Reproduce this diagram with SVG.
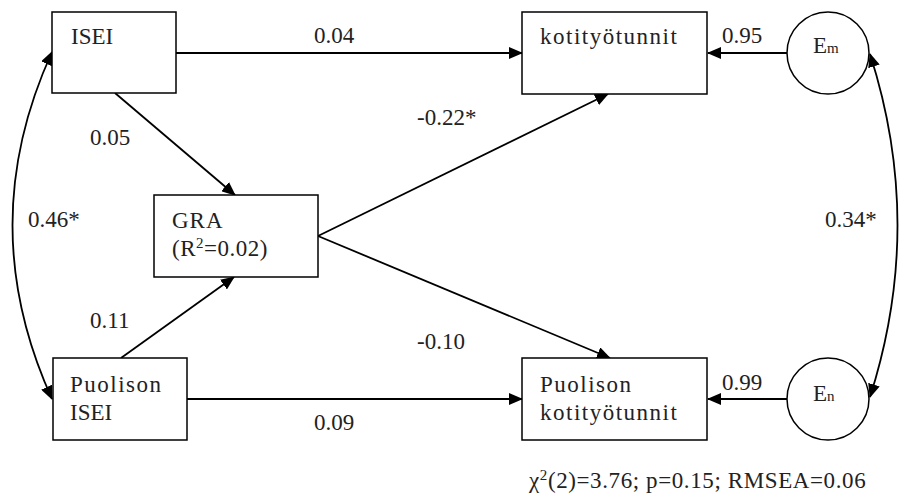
<svg xmlns="http://www.w3.org/2000/svg" width="904" height="499" viewBox="0 0 904 499">
<style>
.box{fill:#fff;stroke:#000;stroke-width:1.5}
.c{fill:#fff;stroke:#000;stroke-width:1.5}
.ln{fill:none;stroke:#000;stroke-width:1.8}
.t{font-family:'Liberation Serif',serif;font-size:23px;fill:#222}
.w{letter-spacing:1.5px}
.sm{font-size:15px}
</style>
<defs>
<marker id="ah" markerUnits="userSpaceOnUse" markerWidth="14" markerHeight="12" refX="13" refY="6" orient="auto-start-reverse" viewBox="0 0 14 12">
<path d="M0,0 L14,6 L0,12 z" fill="#000"/>
</marker>
</defs>
<g id="connectors">
<line class="ln" x1="176" y1="53" x2="522" y2="53" marker-end="url(#ah)"/>
<line class="ln" x1="787" y1="53" x2="708" y2="53" marker-end="url(#ah)"/>
<line class="ln" x1="787" y1="399" x2="708" y2="399" marker-end="url(#ah)"/>
<line class="ln" x1="187" y1="399" x2="522" y2="399" marker-end="url(#ah)"/>
<line class="ln" x1="115" y1="93" x2="235" y2="195" marker-end="url(#ah)"/>
<line class="ln" x1="121" y1="358" x2="234" y2="277" marker-end="url(#ah)"/>
<line class="ln" x1="318" y1="236" x2="608" y2="94" marker-end="url(#ah)"/>
<line class="ln" x1="318" y1="236" x2="610" y2="358" marker-end="url(#ah)"/>
<path class="ln" d="M52,52 Q-27,225 52,399" marker-start="url(#ah)" marker-end="url(#ah)"/>
<path class="ln" d="M870,54 Q925,225 870,397" marker-start="url(#ah)" marker-end="url(#ah)"/>
</g>
<g id="labels" class="t">
<text x="314" y="43">0.04</text>
<text x="722" y="43">0.95</text>
<text x="417" y="125">-0.22*</text>
<text x="90" y="145">0.05</text>
<text x="28" y="227">0.46*</text>
<text x="825" y="227">0.34*</text>
<text x="90" y="328">0.11</text>
<text x="417" y="349">-0.10</text>
<text x="722" y="390">0.99</text>
<text x="314" y="430">0.09</text>
<text x="529" y="488" letter-spacing="0.6">χ<tspan class="sm" dy="-8">2</tspan><tspan dy="8">(2)=3.76; p=0.15; RMSEA=0.06</tspan></text>
</g>
<g id="ISEI" class="t">
<rect class="box" x="52" y="12" width="124" height="81"/>
<text x="71" y="44">ISEI</text>
</g>
<g id="kotityotunnit" class="t">
<rect class="box" x="522" y="12" width="185" height="82"/>
<text class="w" x="540" y="44">kotityötunnit</text>
</g>
<g id="Em" class="t">
<circle class="c" cx="828" cy="53" r="41"/>
<text x="813" y="53">E<tspan class="sm">m</tspan></text>
</g>
<g id="GRA" class="t">
<rect class="box" x="154" y="195" width="164" height="82"/>
<text x="172" y="228" letter-spacing="1">GRA</text>
<text x="172" y="256" letter-spacing="0.5">(R<tspan class="sm" dy="-8">2</tspan><tspan dy="8">=0.02)</tspan></text>
</g>
<g id="PuolisonISEI" class="t">
<rect class="box" x="53" y="358" width="134" height="82"/>
<text class="w" x="70" y="392">Puolison</text>
<text x="70" y="420">ISEI</text>
</g>
<g id="PuolisonKotityotunnit" class="t">
<rect class="box" x="522" y="358" width="185" height="82"/>
<text class="w" x="540" y="392">Puolison</text>
<text class="w" x="540" y="420">kotityötunnit</text>
</g>
<g id="En" class="t">
<circle class="c" cx="828" cy="399" r="41"/>
<text x="813" y="401">E<tspan class="sm">n</tspan></text>
</g>
</svg>
